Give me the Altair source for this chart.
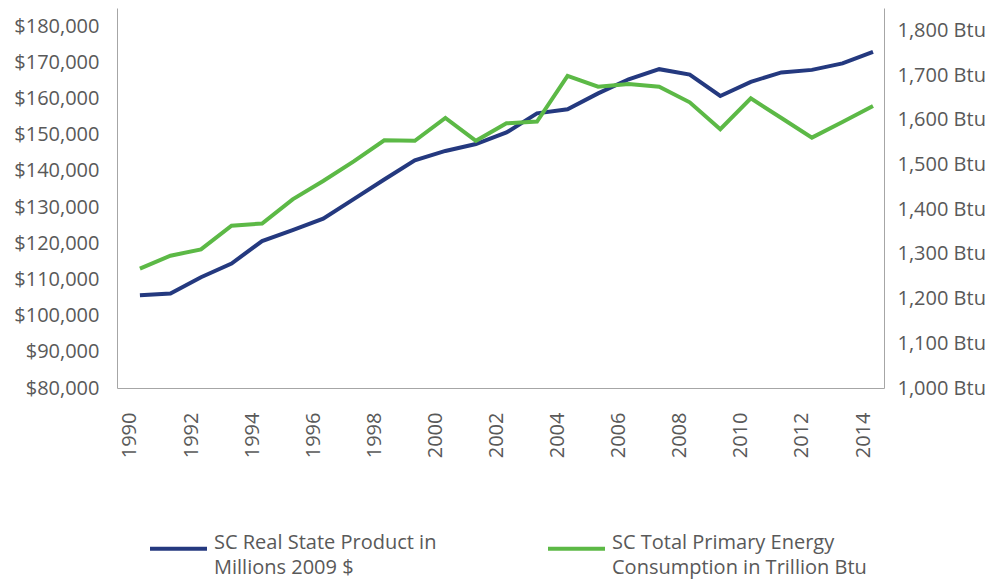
import altair as alt
import pandas as pd

years = list(range(1990, 2015))
gdp = [105600, 106100, 110600, 114400, 120600, 123600, 126800, 132200, 137600, 142900,
       145500, 147400, 150600, 155900, 157000, 161400, 165300, 168100, 166600, 160700,
       164600, 167200, 167900, 169700, 172900]
energy = [1267, 1296, 1310, 1363, 1368, 1422, 1463, 1507, 1554, 1553,
          1604, 1553, 1592, 1596, 1698, 1674, 1680, 1674, 1639, 1579,
          1648, 1604, 1560, 1595, 1631]
series_names = ["SC Real State Product in Millions 2009 $",
                "SC Total Primary Energy Consumption in Trillion Btu"]
colors = ["#24397f", "#5cb946"]
left_ticks = list(range(80000, 180001, 10000))
right_ticks = list(range(1000, 1801, 100))
x_ticks = list(range(1990, 2015, 2))

df_gdp = pd.DataFrame({"year": years, "value": gdp, "series": series_names[0]})
df_en = pd.DataFrame({"year": years, "value": energy, "series": series_names[1]})

FONT = "Open Sans"
GRAY = "#595959"
AXIS_LINE = "#a6a6a6"

x_enc = alt.X("year:Q",
              scale=alt.Scale(domain=[1989.25, 2014.36], nice=False, zero=False),
              axis=alt.Axis(values=x_ticks, format="d", labelAngle=270, title=None,
                            grid=False, ticks=False, labelPadding=24, labelOffset=-10,
                            domainColor=AXIS_LINE, labelFont=FONT, labelFontSize=20,
                            labelColor=GRAY))

legend = alt.Legend(orient="none", legendX=31, legendY=510, direction="horizontal",
                    title=None, symbolType="stroke", symbolSize=3249, symbolStrokeWidth=4,
                    labelFont=FONT, labelFontSize=20, labelColor=GRAY, labelLimit=500,
                    columnPadding=103, labelOffset=5, labelBaseline="alphabetic",
                    labelExpr="datum.label == 'SC Real State Product in Millions 2009 $' ? "
                              "['SC Real State Product in', 'Millions 2009 $'] : "
                              "['SC Total Primary Energy', 'Consumption in Trillion Btu']")

color_enc = alt.Color("series:N",
                      scale=alt.Scale(domain=series_names, range=colors),
                      legend=legend)

line_gdp = alt.Chart(df_gdp).mark_line(strokeWidth=4).encode(
    x=x_enc,
    y=alt.Y("value:Q",
            scale=alt.Scale(domain=[80000, 185000], nice=False, zero=False),
            axis=alt.Axis(values=left_ticks, format="$,.0f", title=None, grid=False,
                          ticks=False, labelPadding=18, domainColor=AXIS_LINE,
                          labelFont=FONT, labelFontSize=20, labelColor=GRAY, orient="left")),
    color=color_enc,
)

line_en = alt.Chart(df_en).mark_line(strokeWidth=4).encode(
    x=x_enc,
    y=alt.Y("value:Q",
            scale=alt.Scale(domain=[1000, 1850], nice=False, zero=False),
            axis=alt.Axis(values=right_ticks, labelExpr="format(datum.value, ',') + ' Btu'",
                          title=None, grid=False, ticks=False, labelPadding=13,
                          domainColor=AXIS_LINE, labelFont=FONT, labelFontSize=20,
                          labelColor=GRAY, orient="right")),
    color=color_enc,
)

chart = alt.layer(line_gdp, line_en).resolve_scale(y="independent").properties(
    width=767, height=380,
    autosize=alt.AutoSizeParams(type="none"),
    padding={"left": 109, "top": 0, "right": 103, "bottom": 191},
).configure(
    style={"guide-label": {"lineHeight": 25}}
).configure_view(stroke=None).configure_axis(domainWidth=1)

chart.save("out.html", embed_options={"renderer": "svg", "actions": False})
